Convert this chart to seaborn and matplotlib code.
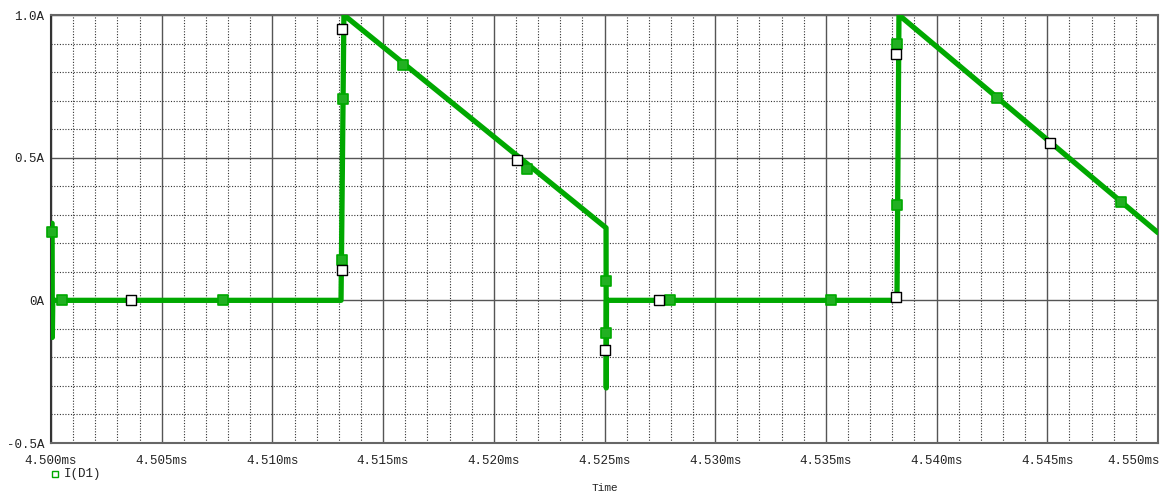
import matplotlib
matplotlib.use("Agg")
import matplotlib.pyplot as plt
from matplotlib.lines import Line2D
from matplotlib.ticker import MultipleLocator, FixedLocator
import matplotlib.transforms as mtransforms
import seaborn as sns
import pandas as pd

# ---- data ----
trace_t = [4.50005, 4.50006, 4.50008, 4.51310, 4.51323, 4.52507, 4.52508, 4.52509,
           4.53821, 4.53830, 4.55000]
trace_i = [0.27, -0.13, 0.0, 0.0, 1.0, 0.254, -0.307, 0.0, 0.0, 1.0, 0.237]

green_t = [4.50004, 4.50050, 4.50777, 4.51314, 4.51319, 4.51590, 4.52150, 4.52507,
           4.52507, 4.52796, 4.53523, 4.53821, 4.53821, 4.54273, 4.54833]
green_i = [0.240, 0.0, 0.0, 0.142, 0.706, 0.825, 0.461, 0.068,
           -0.114, 0.0, 0.0, 0.335, 0.899, 0.710, 0.345]

white_t = [4.50361, 4.51314, 4.51314, 4.52105, 4.52502, 4.52746, 4.53817, 4.53817, 4.54512]
white_i = [0.0, 0.107, 0.952, 0.492, -0.173, 0.0, 0.012, 0.864, 0.552]

x_ticks = [4.500, 4.505, 4.510, 4.515, 4.520, 4.525, 4.530, 4.535, 4.540, 4.545, 4.550]
x_labels = ["4.500ms", "4.505ms", "4.510ms", "4.515ms", "4.520ms", "4.525ms",
            "4.530ms", "4.535ms", "4.540ms", "4.545ms", "4.550ms"]
y_ticks = [-0.5, 0.0, 0.5, 1.0]
y_labels = ["-0.5A", "0A", "0.5A", "1.0A"]
series_name = "I(D1)"
x_title = "Time"

# ---- style ----
sns.set_style("white")
plt.rcParams['font.family'] = ['Liberation Mono', 'DejaVu Sans Mono']
GREEN = "#00a800"
FS = 9

fig = plt.figure(figsize=(11.64, 4.95), dpi=100)
ax = fig.add_axes([51/1164, 1-443/495, (1158-51)/1164, (443-15)/495])

df = pd.DataFrame({"t": trace_t, "i": trace_i})
sns.lineplot(data=df, x="t", y="i", sort=False, estimator=None, ax=ax,
             color=GREEN, linewidth=3.8, zorder=3)
sns.scatterplot(x=green_t, y=green_i, ax=ax, marker="s", s=62,
                color="#22b022", edgecolor=GREEN, linewidth=1.2, zorder=4,
                clip_on=False)
sns.scatterplot(x=white_t, y=white_i, ax=ax, marker="s", s=55,
                color="white", edgecolor="black", linewidth=1.0, zorder=5)

ax.set_xlim(4.500, 4.550)
ax.set_ylim(-0.5, 1.0)

ax.xaxis.set_major_locator(FixedLocator(x_ticks))
ax.set_xticklabels(x_labels, fontsize=FS, color="#222222")
ax.yaxis.set_major_locator(FixedLocator(y_ticks))
ax.set_yticklabels(y_labels, fontsize=FS, color="#222222")
ax.xaxis.set_minor_locator(MultipleLocator(0.001))
ax.yaxis.set_minor_locator(MultipleLocator(0.1))

ax.grid(which="major", color="#555555", linewidth=1.0, linestyle="-", zorder=0)
ax.grid(which="minor", color="#333333", linewidth=0.8, linestyle=(0, (1, 1.5)), zorder=0)
ax.set_axisbelow(True)

ax.tick_params(axis="both", which="major", length=4, width=1, color="#444444",
               direction="out")
ax.tick_params(axis="y", pad=1)
ax.tick_params(axis="x", pad=5)
ax.tick_params(axis="both", which="minor", length=0)
for s in ax.spines.values():
    s.set_color("#666666")
    s.set_linewidth(1.5)
ax.spines["left"].set_color("#333333")

# last x label ends at the right edge, as in the reference
last = ax.get_xticklabels()[-1]
last.set_horizontalalignment("right")
last.set_transform(last.get_transform() + mtransforms.ScaledTranslation(2/100, 0, fig.dpi_scale_trans))

ax.set_xlabel("")
ax.set_ylabel("")

# x axis title
fig.text(605/1164, 1-488/495, x_title, ha="center", va="center", fontsize=FS-1,
         color="#222222")
# legend
fig.add_artist(Line2D([55/1164], [1-474/495], marker="s", markersize=4.5,
                      markerfacecolor="none", markeredgecolor=GREEN,
                      markeredgewidth=1.0, transform=fig.transFigure))
fig.text(64/1164, 1-474/495, series_name, ha="left", va="center", fontsize=FS,
         color="#222222")

fig.savefig("out.png", dpi=100)
